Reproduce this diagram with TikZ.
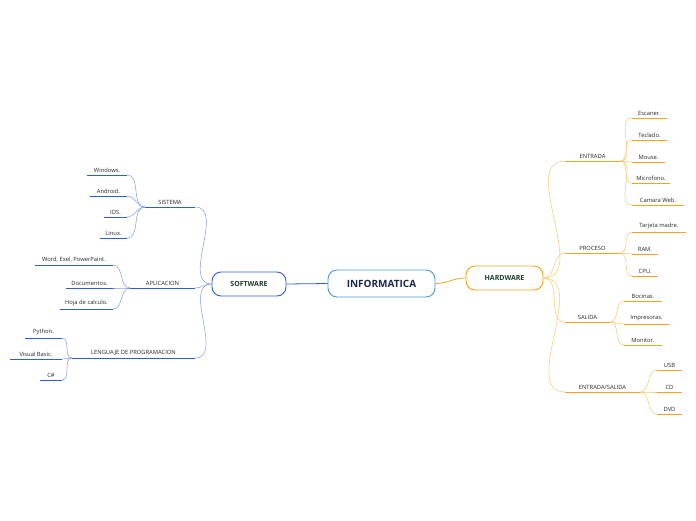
\documentclass[tikz,border=0pt]{standalone}
\usepackage{fontspec}
\setmainfont{Open Sans}
\definecolor{sblue}{HTML}{2F5BE0}
\definecolor{sbluel}{HTML}{7F9BF0}
\definecolor{hor}{HTML}{F5A31A}
\definecolor{horl}{HTML}{FBC66A}
\definecolor{cblue}{HTML}{4A9AD8}
\definecolor{tgreen}{HTML}{1C3F2E}
\definecolor{tnavy}{HTML}{1A2A4A}
\tikzset{
 lbl/.style={font=\fontsize{5.8}{6.5}\selectfont, text=black!85, inner sep=0pt, anchor=south},
 ul/.style={line width=1pt},
 cv/.style={line width=0.5pt},
 mainbox/.style={draw=cblue, line width=0.9pt, rounded corners=9pt, fill=white, minimum width=107pt, minimum height=27pt, font=\bfseries\fontsize{10}{11}\selectfont, text=tnavy},
 subbox/.style={line width=0.9pt, rounded corners=9pt, fill=white, minimum height=24pt, font=\bfseries\fontsize{7}{8}\selectfont, text=tgreen}
}
\newcommand{\leaf}[6]{%
 \coordinate (#1-l) at (#2,#4); \coordinate (#1-r) at (#3,#4);
 \draw[ul,#6] (#1-l) -- (#1-r);
 \node[lbl] (#1) at ($(#1-l)!0.5!(#1-r)+(0,-2.5)$) {#5};}
\usetikzlibrary{calc}
\begin{document}
\begin{tikzpicture}[x=1pt,y=-1pt]
\useasboundingbox (0,0) rectangle (696,520);
% central
\node[mainbox] (inf) at (381.5,283.5) {INFORMATICA};
\node[subbox,draw=sblue,minimum width=74pt] (sw) at (249,284) {SOFTWARE};
\node[subbox,draw=hor,minimum width=77pt] (hw) at (504.5,278) {HARDWARE};
\draw[sblue,line width=0.8pt] (inf.west) -- (sw.east);
\draw[hor,line width=0.8pt] (inf.east) to[out=0,in=180] (hw.west);
% software
\leaf{sis}{145}{195}{207}{SISTEMA}{sblue}
\leaf{apl}{130}{195}{288}{APLICACION}{sblue}
\leaf{len}{72}{195}{358}{LENGUAJE DE PROGRAMACION}{sblue}
\foreach \n in {sis,apl,len} \draw[cv,sbluel] (sw.west) to[out=180,in=0] (\n-r);
\leaf{win}{87}{127}{175}{Windows.}{sblue}
\leaf{and}{90}{127}{196}{Android.}{sblue}
\leaf{ios}{104}{127}{217}{IOS.}{sblue}
\leaf{lin}{100}{127}{238}{Linux.}{sblue}
\foreach \n in {win,and,ios,lin} \draw[cv,sbluel] (sis-l) to[out=180,in=0] (\n-r);
\leaf{wor}{35}{113}{265}{Word, Exel, PowerPaint.}{sblue}
\leaf{doc}{66}{113}{288}{Documentos.}{sblue}
\leaf{hoj}{60}{113}{309}{Hoja de calculo.}{sblue}
\foreach \n in {wor,doc,hoj} \draw[cv,sbluel] (apl-l) to[out=180,in=0] (\n-r);
\leaf{pyt}{25}{62}{338}{Python.}{sblue}
\leaf{vis}{10}{62}{359}{Visual Basic.}{sblue}
\leaf{cs}{40}{62}{380}{C\#}{sblue}
\foreach \n in {pyt,vis,cs} \draw[cv,sbluel] (len-l) to[out=180,in=0] (\n-r);
% hardware
\leaf{ent}{565}{620}{161}{ENTRADA}{hor}
\leaf{pro}{565}{620}{253}{PROCESO}{hor}
\leaf{sal}{565}{610}{322}{SALIDA}{hor}
\leaf{es}{565}{640}{392}{ENTRADA/SALIDA}{hor}
\foreach \n in {ent,pro,sal,es} \draw[cv,horl] (hw.east) to[out=0,in=180] (\n-l);
\leaf{esc}{632}{667}{118}{Escaner.}{hor}
\leaf{tec}{632}{667}{140}{Teclado.}{hor}
\leaf{mou}{632}{665}{162}{Mouse.}{hor}
\leaf{mic}{632}{670}{183}{Microfono.}{hor}
\leaf{cam}{632}{684}{205}{Camara Web.}{hor}
\foreach \n in {esc,tec,mou,mic,cam} \draw[cv,horl] (ent-r) to[out=0,in=180] (\n-l);
\leaf{tar}{632}{686}{232}{Tarjeta madre.}{hor}
\leaf{ram}{632}{658}{254}{RAM.}{hor}
\leaf{cpu}{632}{658}{276}{CPU.}{hor}
\foreach \n in {tar,ram,cpu} \draw[cv,horl] (pro-r) to[out=0,in=180] (\n-l);
\leaf{boc}{624}{662}{301}{Bocinas.}{hor}
\leaf{imp}{624}{669}{324}{Impresoras.}{hor}
\leaf{mon}{624}{662}{345}{Monitor.}{hor}
\foreach \n in {boc,imp,mon} \draw[cv,horl] (sal-r) to[out=0,in=180] (\n-l);
\leaf{usb}{657}{682}{370}{USB}{hor}
\leaf{cd}{657}{682}{392}{CD}{hor}
\leaf{dvd}{657}{682}{414}{DVD}{hor}
\foreach \n in {usb,cd,dvd} \draw[cv,horl] (es-r) to[out=0,in=180] (\n-l);
\end{tikzpicture}
\end{document}
